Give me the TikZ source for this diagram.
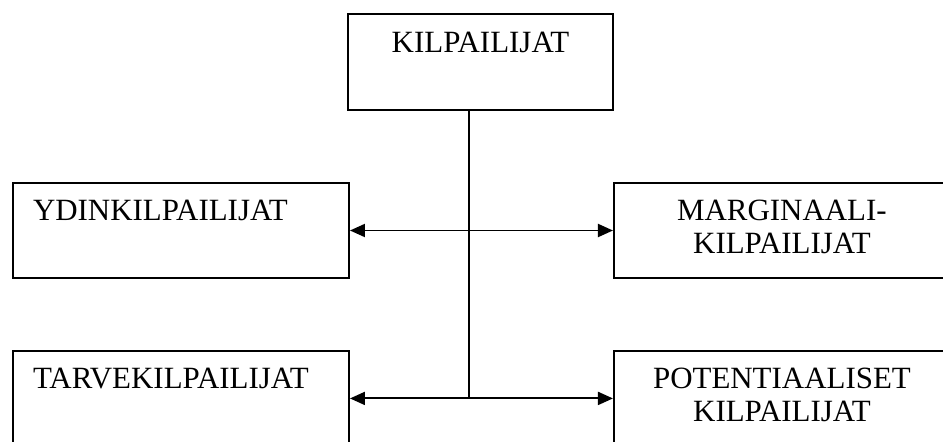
\documentclass[tikz,border=0pt]{standalone}
\usepackage{fontspec}
\setmainfont{Liberation Serif}
\usetikzlibrary{positioning, arrows.meta}

\tikzset{
    boxfont/.style={font=\fontsize{17.6pt}{18.7pt}\selectfont},
    topbox/.style={draw, line width=1.1pt, boxfont, inner xsep=0pt, inner ysep=0pt,
        minimum width=5.3cm, text height=0.78cm, text depth=1.14cm},
    sidebox/.style={draw, line width=1.1pt, boxfont, inner xsep=0.4cm, inner ysep=0pt,
        text width=5.92cm, align=left, text height=0.76cm, text depth=1.14cm},
    conn/.style={line width=1.1pt},
    biarrow/.style={conn, {Triangle[length=0.3cm, width=0.26cm]}-{Triangle[length=0.3cm, width=0.26cm]}}
}

\begin{document}
\begin{tikzpicture}
    \clip (0,0) rectangle (18.86,8.84);
    \node (kilp) [topbox] at (9.61,7.60) {KILPAILIJAT};
    \node (ydin) [sidebox] at (3.62,4.23) {YDINKILPAILIJAT};
    \node (marg) [sidebox, align=center, right=5.26cm of ydin] {MARGINAALI-\\KILPAILIJAT};
    \node (tarve) [sidebox, below=1.42cm of ydin] {TARVEKILPAILIJAT};
    \node (pot) [sidebox, align=center, right=5.26cm of tarve] {POTENTIAALISET\\KILPAILIJAT};
    % trunk from the top box down to the lower arrow
    \coordinate (hub) at (9.38,0 |- tarve.east);
    \draw [conn] (hub |- kilp.south) -- (hub);
    \draw [biarrow] (ydin.east) -- (marg.west);
    \draw [biarrow] (tarve.east) -- (pot.west);
\end{tikzpicture}
\end{document}
